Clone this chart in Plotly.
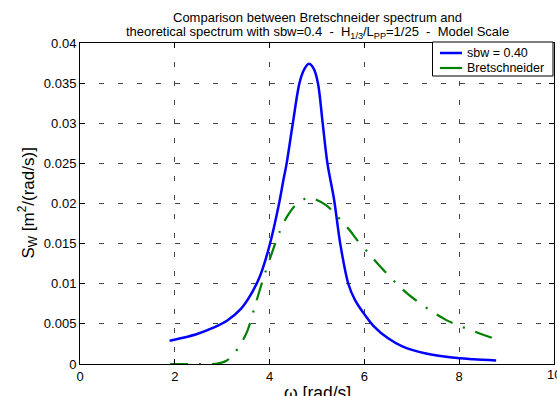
import plotly.graph_objects as go

# Theoretical spectrum (sbw = 0.40)
omega_sbw = [1.89, 2.2, 2.5, 2.8, 3.1, 3.4, 3.6, 3.8, 4.0, 4.2, 4.29, 4.36, 4.49, 4.63, 4.73,
             4.83, 4.93, 5.02, 5.12, 5.22, 5.36, 5.49, 5.66, 5.8, 6.0, 6.2, 6.5, 6.8, 7.3,
             7.85, 8.3, 8.78]
s_sbw = [0.0029, 0.0033, 0.0038, 0.0045, 0.0054, 0.0069, 0.0086, 0.0110, 0.0148, 0.0200,
         0.0229, 0.025, 0.030, 0.035, 0.0367, 0.0374, 0.0368, 0.035, 0.030, 0.025, 0.0205,
         0.015, 0.010, 0.0080, 0.0062, 0.0047, 0.0032, 0.0022, 0.0013, 0.0008, 0.0006, 0.00045]

# Bretschneider spectrum
omega_bret = [1.9, 2.5, 2.9, 3.09, 3.25, 3.4, 3.53, 3.7, 3.87, 4.07, 4.2, 4.38, 4.6, 4.85,
              5.19, 5.35, 5.52, 5.7, 5.84, 6.12, 6.31, 6.5, 6.75, 7.05, 7.72, 8.39, 8.72]
s_bret = [0.0, 0.0, 0.00005, 0.0004, 0.0013, 0.0026, 0.0041, 0.0074, 0.0107, 0.0142, 0.0163,
          0.0185, 0.0201, 0.0207, 0.0198, 0.0189, 0.0178, 0.0166, 0.0155, 0.0136, 0.0123,
          0.0111, 0.0096, 0.0081, 0.0055, 0.0039, 0.0032]

series_names = ["sbw = 0.40", "Bretschneider"]

x_ticks = [0, 2, 4, 6, 8, 10]
y_ticks = [0, 0.005, 0.01, 0.015, 0.02, 0.025, 0.03, 0.035, 0.04]
y_tick_labels = ["0", "0.005", "0.01", "0.015", "0.02", "0.025", "0.03", "0.035", "0.04"]

FONT = "Liberation Sans, Arial, sans-serif"
BLUE = "#0000FF"
GREEN = "#008000"

fig = go.Figure()
fig.add_trace(go.Scatter(x=omega_sbw, y=s_sbw, mode="lines", name=series_names[0],
                         showlegend=False,
                         line=dict(color=BLUE, width=2.5, shape="spline", smoothing=0.9)))
fig.add_trace(go.Scatter(x=omega_bret, y=s_bret, mode="lines", name=series_names[1],
                         showlegend=False,
                         line=dict(color=GREEN, width=2.2, shape="spline", smoothing=0.9,
                                   dash="18px,11px,2px,11px")))

axis_common = dict(showline=True, linecolor="black", linewidth=1, mirror="ticks",
                   ticks="inside", ticklen=5, tickcolor="black", showgrid=True,
                   gridcolor="#444444", gridwidth=1, griddash="5px,14px", zeroline=False,
                   tickfont=dict(family=FONT, size=13, color="black"))

# Legend drawn as a boxed key in the top-right corner of the axes
PLOT_W, PLOT_H = 474.0, 321.0
def px_x(dx):  # pixel offset from left of plot -> paper
    return dx / PLOT_W
def px_y(dy):  # pixel offset from top of plot -> paper
    return 1.0 - dy / PLOT_H

shapes = [
    dict(type="rect", xref="paper", yref="paper", x0=px_x(352.5), x1=px_x(473), y0=px_y(33),
         y1=px_y(-1), line=dict(color="black", width=1), fillcolor="white", layer="above"),
    dict(type="line", xref="paper", yref="paper", x0=px_x(360), x1=px_x(382), y0=px_y(10),
         y1=px_y(10), line=dict(color=BLUE, width=2.5), layer="above"),
    dict(type="line", xref="paper", yref="paper", x0=px_x(360), x1=px_x(382), y0=px_y(25),
         y1=px_y(25), line=dict(color=GREEN, width=2.2), layer="above"),
]

legend_ann = [
    dict(text=series_names[0], xref="paper", yref="paper", x=px_x(386), y=px_y(10),
         xanchor="left", yanchor="middle", showarrow=False, borderpad=0,
         font=dict(family=FONT, size=12.5)),
    dict(text=series_names[1], xref="paper", yref="paper", x=px_x(386), y=px_y(25),
         xanchor="left", yanchor="middle", showarrow=False, borderpad=0,
         font=dict(family=FONT, size=12.5)),
]

fig.update_layout(
    width=557, height=396,
    margin=dict(l=80, r=3, t=43, b=32),
    paper_bgcolor="white", plot_bgcolor="white",
    font=dict(family=FONT, color="black"),
    xaxis=dict(range=[0, 10], tickvals=x_ticks, ticktext=[str(v) for v in x_ticks], **axis_common),
    yaxis=dict(range=[0, 0.04], tickvals=y_ticks, ticktext=y_tick_labels, **axis_common),
    showlegend=False,
    shapes=shapes,
    annotations=[
        dict(text="Comparison between Bretschneider spectrum and",
             xref="paper", yref="paper", x=0.5, y=1.0, xanchor="center", yanchor="bottom",
             yshift=16, showarrow=False, font=dict(family=FONT, size=13)),
        dict(text="theoretical spectrum with sbw=0.4  -  H<sub>1/3</sub>/L<sub>PP</sub>=1/25  -  Model Scale",
             xref="paper", yref="paper", x=0.5, y=1.0, xanchor="center", yanchor="bottom",
             yshift=0, showarrow=False, font=dict(family=FONT, size=13)),
        # last x tick label, partly cut by the right edge as in the reference
        dict(text=str(x_ticks[-1]), xref="x", yref="paper", x=x_ticks[-1], y=0, xanchor="center",
             yanchor="top", yshift=-1, showarrow=False, font=dict(family=FONT, size=13)),
        dict(text="ω [rad/s]", xref="paper", yref="paper", x=0.5, y=0, xanchor="center",
             yanchor="top", yshift=-17, showarrow=False, font=dict(family=FONT, size=17.5)),
        dict(text="S<sub>W</sub> [m<sup>2</sup>/(rad/s)]", xref="paper", yref="paper", x=0, y=0.5,
             xanchor="center", yanchor="middle", xshift=-52, textangle=-90, showarrow=False,
             font=dict(family=FONT, size=17)),
    ] + legend_ann,
)

fig.write_html("out.html")
